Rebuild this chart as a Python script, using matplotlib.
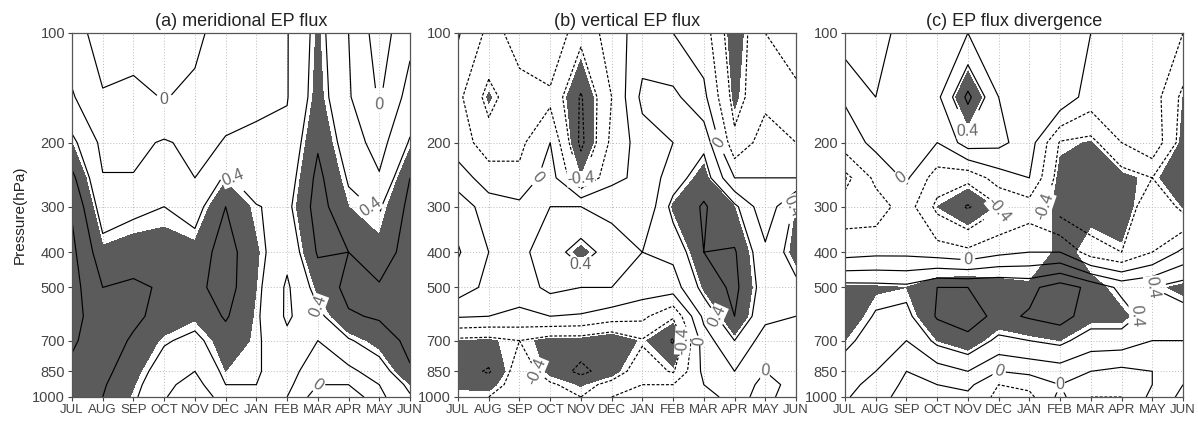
import numpy as np
import matplotlib
matplotlib.use('Agg')
import matplotlib.pyplot as plt
from matplotlib.ticker import NullLocator, FixedLocator

plt.rcParams['font.family'] = ['Liberation Sans', 'DejaVu Sans']

months = ['JUL', 'AUG', 'SEP', 'OCT', 'NOV', 'DEC', 'JAN', 'FEB', 'MAR', 'APR', 'MAY', 'JUN']
plev = [100, 150, 200, 250, 300, 400, 500, 600, 700, 850, 925, 1000]
ptick = [100, 200, 300, 400, 500, 700, 850, 1000]

# one row per month, values at plev (100 -> 1000 hPa)
merid = [
    [0.10, 0.22, 0.45, 0.65, 0.78, 0.85, 0.88, 0.87, 0.83, 0.75, 0.70, 0.68],
    [-0.10, 0.02, 0.15, 0.21, 0.30, 0.48, 0.60, 0.68, 0.68, 0.65, 0.62, 0.60],
    [-0.08, 0.05, 0.15, 0.21, 0.36, 0.52, 0.63, 0.63, 0.58, 0.50, 0.46, 0.43],
    [-0.05, -0.01, 0.22, 0.30, 0.40, 0.52, 0.58, 0.55, 0.42, 0.30, 0.25, 0.22],
    [-0.05, 0.05, 0.15, 0.20, 0.32, 0.50, 0.55, 0.47, 0.35, 0.20, 0.12, 0.02],
    [0.10, 0.15, 0.21, 0.43, 0.60, 0.68, 0.68, 0.62, 0.52, 0.45, 0.40, 0.32],
    [0.10, 0.18, 0.22, 0.30, 0.41, 0.47, 0.45, 0.43, 0.43, 0.42, 0.40, 0.36],
    [0.19, 0.19, 0.25, 0.30, 0.35, 0.25, 0.17, 0.17, 0.25, 0.30, 0.25, 0.20],
    [0.47, 0.50, 0.58, 0.65, 0.68, 0.62, 0.48, 0.35, 0.20, 0.05, 0.00, -0.10],
    [0.20, 0.22, 0.30, 0.38, 0.45, 0.60, 0.65, 0.58, 0.38, 0.15, 0.00, -0.15],
    [-0.10, -0.02, 0.12, 0.22, 0.38, 0.50, 0.62, 0.62, 0.50, 0.30, 0.20, 0.15],
    [0.15, 0.28, 0.42, 0.60, 0.65, 0.68, 0.70, 0.68, 0.65, 0.58, 0.45, 0.38],
]

vert = [
    [0.02, -0.15, -0.10, 0.10, 0.32, 0.42, 0.30, 0.02, -0.45, -0.52, -0.48, -0.40],
    [-0.25, -0.47, -0.30, -0.10, 0.10, 0.20, 0.15, 0.00, -0.47, -0.62, -0.50, -0.40],
    [-0.15, -0.25, -0.25, -0.15, 0.05, 0.15, 0.10, -0.05, -0.40, -0.30, -0.30, -0.30],
    [0.00, -0.25, 0.00, 0.10, 0.20, 0.30, 0.25, 0.00, -0.50, -0.48, -0.38, -0.30],
    [-0.35, -0.62, -0.65, -0.42, 0.20, 0.50, 0.20, -0.02, -0.50, -0.65, -0.46, -0.40],
    [-0.10, -0.20, -0.15, -0.05, 0.15, 0.30, 0.20, -0.10, -0.58, -0.50, -0.35, -0.20],
    [0.10, 0.25, 0.10, 0.05, 0.00, 0.20, 0.10, -0.15, -0.42, -0.30, -0.20, -0.10],
    [0.00, 0.25, 0.20, 0.30, 0.47, 0.25, 0.10, -0.38, -0.62, -0.42, -0.20, -0.10],
    [-0.10, 0.05, 0.35, 0.52, 0.62, 0.60, 0.47, 0.25, 0.10, 0.05, 0.00, -0.05],
    [-0.55, -0.48, -0.35, 0.00, 0.45, 0.62, 0.65, 0.60, 0.40, 0.20, 0.10, 0.05],
    [-0.20, -0.25, -0.10, 0.00, 0.05, 0.25, 0.30, 0.25, 0.10, 0.00, -0.05, -0.05],
    [-0.10, -0.25, -0.20, 0.00, 0.45, 0.50, 0.35, 0.20, 0.10, 0.10, 0.05, 0.10],
]

div = [
    [0.30, 0.02, -0.10, -0.47, -0.30, -0.08, 0.48, 0.55, 0.45, 0.30, 0.25, 0.22],
    [0.25, 0.20, 0.05, -0.15, -0.30, -0.05, 0.47, 0.38, 0.30, 0.20, 0.15, 0.10],
    [0.15, 0.10, 0.05, 0.03, -0.10, -0.05, 0.45, 0.35, 0.20, 0.00, -0.05, -0.10],
    [0.10, 0.15, 0.00, -0.30, -0.45, -0.10, 0.60, 0.62, 0.45, 0.10, 0.00, -0.10],
    [0.20, 0.65, 0.30, -0.35, -0.62, -0.15, 0.60, 0.68, 0.55, 0.20, 0.05, -0.05],
    [0.15, 0.20, 0.25, -0.10, -0.42, -0.05, 0.60, 0.55, 0.35, 0.00, -0.20, -0.25],
    [0.00, 0.15, 0.10, 0.00, -0.30, 0.00, 0.55, 0.62, 0.40, 0.05, -0.15, -0.25],
    [0.20, 0.15, -0.42, -0.50, -0.50, 0.00, 0.70, 0.68, 0.45, 0.10, 0.00, 0.05],
    [0.00, -0.10, -0.46, -0.50, -0.55, -0.30, 0.55, 0.50, 0.30, 0.00, -0.10, -0.20],
    [-0.10, -0.15, -0.20, -0.50, -0.60, -0.40, 0.35, 0.50, 0.30, -0.05, -0.15, -0.20],
    [-0.10, -0.10, -0.05, -0.40, -0.20, -0.20, 0.40, 0.30, 0.20, 0.00, 0.00, 0.05],
    [-0.20, -0.45, -0.50, -0.60, -0.46, 0.05, 0.50, 0.30, 0.20, 0.15, 0.20, 0.25],
]
# grid points shaded as significant in (c) though the value is small
div_extra_sig = [('FEB', 400)]

titles = ['(a) meridional EP flux', '(b) vertical EP flux', '(c) EP flux divergence']
lefts = [72, 458, 845]

shade_col = '#5b5b5b'
clev = np.round(np.arange(-0.8, 0.81, 0.2), 1)
dash = (0, (2.5, 1.5))
styles = [dash if l < -1e-6 else 'solid' for l in clev]

fig = plt.figure(figsize=(11.98, 4.21), dpi=100)
W, H = 1198.0, 421.0

def fmt(v):
    if abs(v) < 1e-6:
        return '0'
    return '%.1f' % v

x = np.arange(len(months))
p = np.array(plev, dtype=float)

for k, (data, title) in enumerate(zip([merid, vert, div], titles)):
    ax = fig.add_axes([lefts[k] / W, 1 - 397 / H, 338 / W, 364 / H])
    ax.set_axisbelow(True)
    Z = np.array(data).T
    sig = np.abs(Z)
    if k == 2:
        for mon, lev in div_extra_sig:
            sig[plev.index(lev), months.index(mon)] = 0.6
    ax.contourf(x, p, sig, levels=[0.45, 5], colors=[shade_col], zorder=1)
    cs = ax.contour(x, p, Z, levels=clev, colors='k', linewidths=0.85,
                    linestyles=styles, zorder=3)
    lab = [l for l in cs.levels if np.isclose(abs(l), 0.4) or np.isclose(l, 0)]
    texts = ax.clabel(cs, levels=lab, fmt=fmt, fontsize=11.5, inline=True, inline_spacing=3)
    for t in texts:
        t.set_color('#666666')
        t.set_bbox(dict(fc='white', ec='none', pad=0.2))
    ax.set_yscale('log')
    ax.set_ylim(1000, 100)
    ax.yaxis.set_major_locator(FixedLocator(ptick))
    ax.yaxis.set_minor_locator(NullLocator())
    ax.set_yticklabels([str(v) for v in ptick])
    ax.set_xlim(0, 11)
    ax.set_xticks(x)
    ax.set_xticklabels(months, fontsize=9.5)
    ax.grid(True, ls=(0, (1, 2)), color='#bbbbbb', lw=0.7, zorder=0.5)
    ax.tick_params(axis='y', labelsize=10.5)
    ax.tick_params(colors='#444444', length=3, width=0.8, pad=2)
    for s in ax.spines.values():
        s.set_color('#555555')
        s.set_linewidth(0.9)
        s.set_zorder(4)
    ax.set_title(title, fontsize=13, color='#222222', pad=5)
    if k == 0:
        ax.set_ylabel('Pressure(hPa)', fontsize=11, color='#222222', labelpad=4)

fig.savefig('out.png', dpi=100)
